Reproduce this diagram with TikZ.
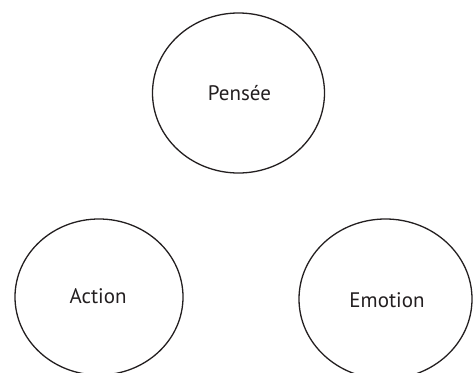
\documentclass[tikz,border=0pt]{standalone}
\usepackage{fontspec}
\setmainfont{PT Sans}
\definecolor{ink}{HTML}{231F20}
\begin{document}
\begin{tikzpicture}[x=1pt,y=-1pt,
  bubble/.style={draw=ink, line width=1.3pt, ellipse-ish},
  ellipse-ish/.style={},
  lbl/.style={text=ink, font=\fontsize{21}{25}\selectfont, inner sep=0pt}]
\useasboundingbox (0,0) rectangle (476,372);
\begin{scope}
\clip (0,0) rectangle (476,372);
\draw[draw=ink, line width=1.3pt] (238.5,93) ellipse [x radius=86, y radius=80];
\draw[draw=ink, line width=1.3pt] (99,297) ellipse [x radius=84, y radius=78];
\draw[draw=ink, line width=1.3pt] (385.5,299) ellipse [x radius=86.5, y radius=80];
\end{scope}
\node[lbl] (pensee) at (239.5,93) {Pensée};
\node[lbl] (action) at (98,296) {Action};
\node[lbl] (emotion) at (387,300) {Emotion};
\end{tikzpicture}
\end{document}
